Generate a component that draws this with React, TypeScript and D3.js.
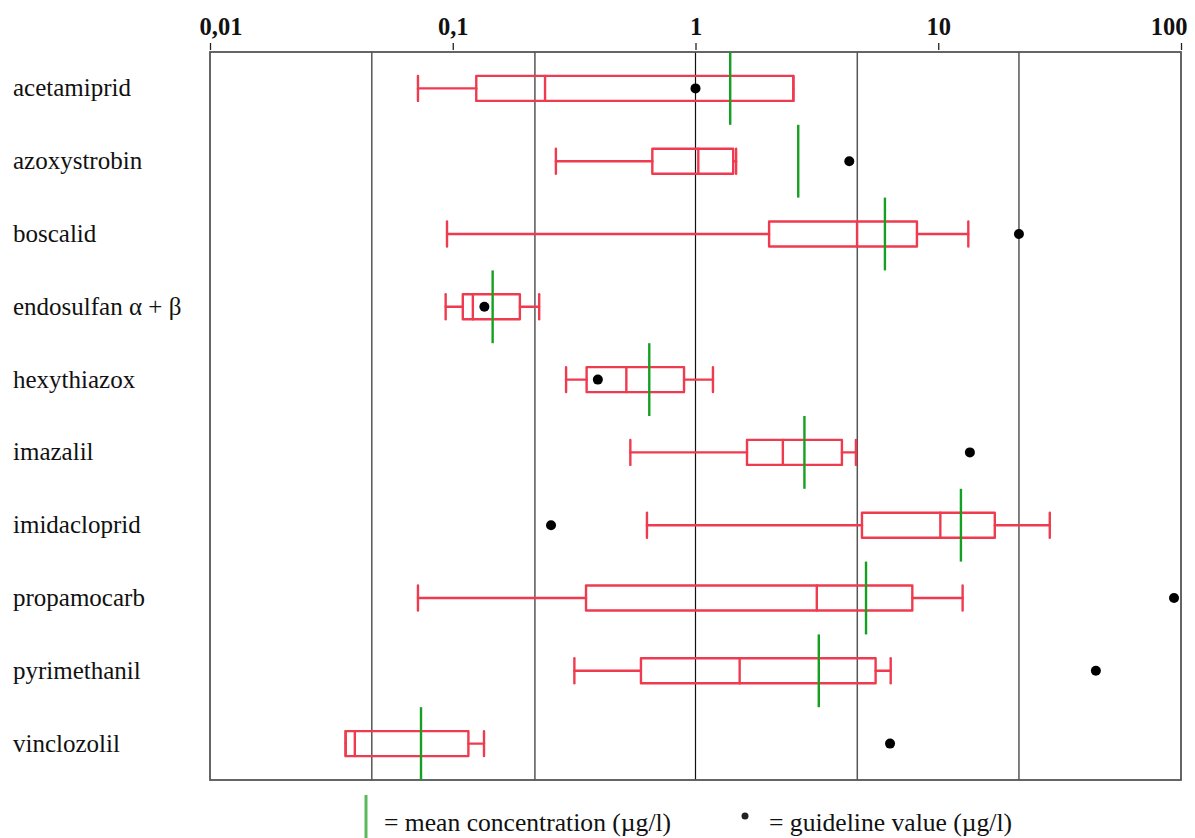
import {useEffect, useRef} from 'react';
import * as d3 from 'd3';

// pesticide names, top to bottom
const pesticides = [
    'acetamiprid', 'azoxystrobin', 'boscalid', 'endosulfan α + β', 'hexythiazox',
    'imazalil', 'imidacloprid', 'propamocarb', 'pyrimethanil', 'vinclozolil'
];

// box plot stats (µg/l)
const minValues = [0.0719, 0.266, 0.0947, 0.0935, 0.293, 0.539, 0.631, 0.0719, 0.317, 0.0362];
const q1Values = [0.125, 0.664, 2.01, 0.110, 0.356, 1.63, 4.85, 0.354, 0.596, 0.0362];
const medianValues = [0.240, 1.027, 4.63, 0.121, 0.519, 2.29, 10.2, 3.16, 1.52, 0.0395];
const q3Values = [2.53, 1.43, 8.17, 0.189, 0.897, 4.01, 17.1, 7.82, 5.52, 0.116];
const maxValues = [2.53, 1.47, 13.3, 0.227, 1.18, 4.58, 28.8, 12.6, 6.37, 0.1345];
const meanValues = [1.39, 2.65, 6.03, 0.146, 0.645, 2.81, 12.4, 5.04, 3.22, 0.074];
const guidelineValues = [1.0, 4.30, 21.5, 0.135, 0.396, 13.5, 0.254, 93.6, 44.6, 6.33];

const tickValues = [0.01, 0.1, 1, 10, 100];
const tickLabels = ['0,01', '0,1', '1', '10', '100'];
const gridValues = [0.0464, 0.218, 4.64, 21.5];

const App = () => {
    const chartRef = useRef(null);

    useEffect(() => {
        document.body.style.margin = '0';
        const width = 1195;
        const height = 838;
        const margin = {top: 52, right: 14, bottom: 58, left: 210};
        const red = '#ef3b4f';
        const green = '#16a021';
        const serif = '"Liberation Serif", "Times New Roman", serif';

        d3.select(chartRef.current).selectAll('svg').remove();

        const svg = d3.select(chartRef.current)
            .append('svg')
            .attr('width', width)
            .attr('height', height)
            .style('display', 'block')
            .style('background', '#fff');

        const x = d3.scaleLog()
            .domain([0.01, 100])
            .range([margin.left, width - margin.right]);

        const y = d3.scaleBand()
            .domain(pesticides)
            .range([margin.top, height - margin.bottom])
            .padding(0);

        const boxH = 25;

        // gridlines
        svg.append('g')
            .selectAll('line')
            .data(gridValues)
            .enter().append('line')
            .attr('x1', d => x(d))
            .attr('x2', d => x(d))
            .attr('y1', margin.top)
            .attr('y2', height - margin.bottom)
            .attr('stroke', '#555')
            .attr('stroke-width', 1.5);

        // vertical axis crossing at 1
        svg.append('line')
            .attr('x1', x(1))
            .attr('x2', x(1))
            .attr('y1', margin.top)
            .attr('y2', height - margin.bottom)
            .attr('stroke', '#111')
            .attr('stroke-width', 1.2);

        // frame
        svg.append('rect')
            .attr('x', margin.left)
            .attr('y', margin.top)
            .attr('width', width - margin.right - margin.left)
            .attr('height', height - margin.bottom - margin.top)
            .attr('fill', 'none')
            .attr('stroke', '#555')
            .attr('stroke-width', 1.8);

        // top axis
        const xAxis = d3.axisTop(x)
            .tickValues(tickValues)
            .tickFormat((d, i) => tickLabels[i])
            .tickSize(7)
            .tickSizeOuter(0)
            .tickPadding(8);

        const axisG = svg.append('g')
            .attr('transform', `translate(0, ${margin.top - 2})`)
            .call(xAxis);
        axisG.select('.domain').remove();
        axisG.selectAll('.tick line').attr('stroke', '#222').attr('stroke-width', 1.3);
        axisG.selectAll('.tick text')
            .attr('fill', '#111')
            .style('font-family', serif)
            .style('font-weight', 'bold')
            .style('font-size', '24.5px');
        axisG.selectAll('.tick text')
            .filter((d, i) => i === 0)
            .attr('text-anchor', 'start')
            .attr('x', -11);
        axisG.selectAll('.tick text')
            .filter((d, i) => i === tickValues.length - 1)
            .attr('text-anchor', 'end')
            .attr('x', 6);

        // category labels
        svg.append('g')
            .selectAll('text')
            .data(pesticides)
            .enter().append('text')
            .attr('x', 13)
            .attr('y', d => y(d) + y.bandwidth() / 2 + 8)
            .attr('fill', '#111')
            .style('font-family', serif)
            .style('font-size', '25px')
            .text(d => d);

        const rows = svg.append('g')
            .selectAll('g')
            .data(pesticides)
            .enter().append('g')
            .attr('transform', d => `translate(0, ${y(d) + y.bandwidth() / 2})`);

        const redLine = (sel) => sel
            .attr('stroke', red)
            .attr('stroke-width', 2.4)
            .attr('stroke-linecap', 'round')
            .attr('fill', 'none');

        // whiskers
        rows.append('line')
            .attr('x1', (d, i) => x(minValues[i]))
            .attr('x2', (d, i) => x(q1Values[i]))
            .attr('y1', 0).attr('y2', 0)
            .call(redLine);
        rows.append('line')
            .attr('x1', (d, i) => x(q3Values[i]))
            .attr('x2', (d, i) => x(maxValues[i]))
            .attr('y1', 0).attr('y2', 0)
            .call(redLine);
        rows.append('line')
            .attr('x1', (d, i) => x(minValues[i]))
            .attr('x2', (d, i) => x(minValues[i]))
            .attr('y1', -boxH / 2).attr('y2', boxH / 2)
            .call(redLine);
        rows.append('line')
            .attr('x1', (d, i) => x(maxValues[i]))
            .attr('x2', (d, i) => x(maxValues[i]))
            .attr('y1', -boxH / 2).attr('y2', boxH / 2)
            .call(redLine);

        // boxes
        rows.append('rect')
            .attr('x', (d, i) => x(q1Values[i]))
            .attr('y', -boxH / 2)
            .attr('width', (d, i) => x(q3Values[i]) - x(q1Values[i]))
            .attr('height', boxH)
            .attr('stroke-linejoin', 'round')
            .call(redLine);
        rows.append('line')
            .attr('x1', (d, i) => x(medianValues[i]))
            .attr('x2', (d, i) => x(medianValues[i]))
            .attr('y1', -boxH / 2).attr('y2', boxH / 2)
            .call(redLine);

        // mean
        rows.append('line')
            .attr('x1', (d, i) => x(meanValues[i]))
            .attr('x2', (d, i) => x(meanValues[i]))
            .attr('y1', -y.bandwidth() / 2).attr('y2', y.bandwidth() / 2)
            .attr('stroke', green)
            .attr('stroke-width', 2.4);

        // guideline
        rows.append('circle')
            .attr('cx', (d, i) => x(guidelineValues[i]))
            .attr('cy', 0)
            .attr('r', 5)
            .attr('fill', '#000');

        // legend
        const legend = svg.append('g');
        legend.append('line')
            .attr('x1', 366).attr('x2', 366)
            .attr('y1', 795).attr('y2', 838)
            .attr('stroke', '#5cb85c')
            .attr('stroke-width', 3);
        legend.append('text')
            .attr('x', 384)
            .attr('y', 831)
            .attr('fill', '#111')
            .style('font-family', serif)
            .style('font-size', '25.6px')
            .text('= mean concentration (µg/l)');
        legend.append('circle')
            .attr('cx', 745)
            .attr('cy', 816)
            .attr('r', 3.5)
            .attr('fill', '#222');
        legend.append('text')
            .attr('x', 769)
            .attr('y', 831)
            .attr('fill', '#111')
            .style('font-family', serif)
            .style('font-size', '25.6px')
            .text('= guideline value (µg/l)');
    }, []);

    return <div ref={chartRef}></div>;
};

export default App;
